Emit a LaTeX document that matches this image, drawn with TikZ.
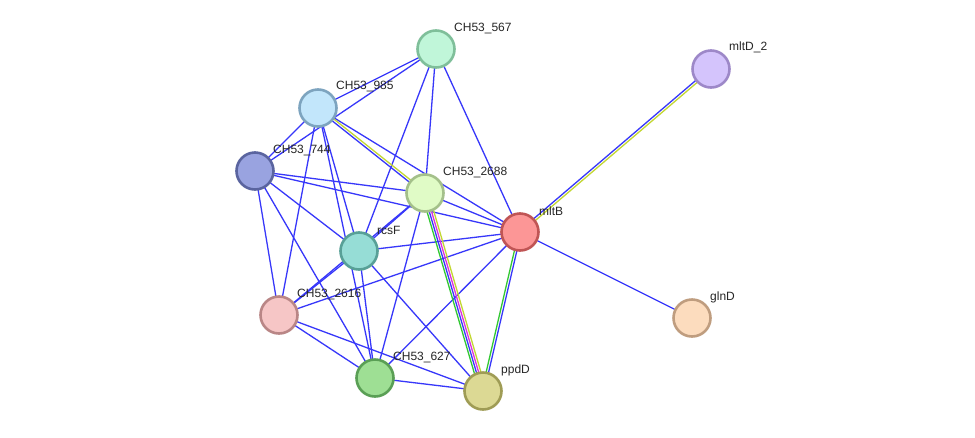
\documentclass[tikz,border=0pt]{standalone}
\usepackage{fontspec}
\setmainfont{Liberation Sans}
\usetikzlibrary{calc,backgrounds}
\definecolor{eblue}{RGB}{55,55,250}
\definecolor{egreen}{RGB}{50,200,50}
\definecolor{emag}{RGB}{220,50,220}
\definecolor{eyel}{RGB}{195,215,50}
\definecolor{d567}{RGB}{127,191,154}\definecolor{f567}{RGB}{192,246,217}
\definecolor{dmltD}{RGB}{157,136,200}\definecolor{fmltD}{RGB}{212,196,252}
\definecolor{d985}{RGB}{125,164,191}\definecolor{f985}{RGB}{194,230,251}
\definecolor{d744}{RGB}{90,100,159}\definecolor{f744}{RGB}{153,163,224}
\definecolor{d2688}{RGB}{164,192,138}\definecolor{f2688}{RGB}{224,251,198}
\definecolor{dmltB}{RGB}{192,85,85}\definecolor{fmltB}{RGB}{252,150,150}
\definecolor{drcsF}{RGB}{88,160,151}\definecolor{frcsF}{RGB}{150,221,214}
\definecolor{d2616}{RGB}{185,134,134}\definecolor{f2616}{RGB}{246,198,198}
\definecolor{dglnD}{RGB}{191,157,127}\definecolor{fglnD}{RGB}{252,220,190}
\definecolor{d627}{RGB}{90,159,85}\definecolor{f627}{RGB}{158,223,148}
\definecolor{dppdD}{RGB}{159,156,85}\definecolor{fppdD}{RGB}{220,217,148}
\newcommand\edgeoff[4]{\draw[#4] ($(#1.center)!#3pt!90:(#2.center)$) -- ($(#2.center)!#3pt!-90:(#1.center)$);}
\tikzset{
  prot/.style={circle, minimum size=37pt, inner sep=0pt, line width=2.6pt, draw=d#1, fill=f#1},
  lbl/.style={anchor=west, font=\fontsize{12pt}{14pt}\selectfont, inner sep=0pt, text=black!85},
  ed/.style={line width=1.3pt, draw=eblue},
}
\begin{document}
\begin{tikzpicture}[x=1pt,y=-1pt]
\useasboundingbox (0,0) rectangle (975,437);
% nodes
\node[prot=567] (n567) at (436,49) {};
\node[prot=mltD] (mltD) at (711,69) {};
\node[prot=985] (n985) at (318,108) {};
\node[prot=744] (n744) at (255,171) {};
\node[prot=2688] (n2688) at (425,193) {};
\node[prot=mltB] (mltB) at (520,232) {};
\node[prot=rcsF] (rcsF) at (359,251) {};
\node[prot=2616] (n2616) at (279,315) {};
\node[prot=glnD] (glnD) at (692,318) {};
\node[prot=627] (n627) at (375,378) {};
\node[prot=ppdD] (ppdD) at (483,391) {};
% labels
\node[lbl] (l567) at (454,28) {CH53\_567};
\node[lbl] (lmltD) at (729,47) {mltD\_2};
\node[lbl] (l985) at (336,86) {CH53\_985};
\node[lbl] (l744) at (273,150) {CH53\_744};
\node[lbl] (l2688) at (443,172) {CH53\_2688};
\node[lbl] (lmltB) at (539,211) {mltB};
\node[lbl] (lrcsF) at (377,230) {rcsF};
\node[lbl] (l2616) at (297,294) {CH53\_2616};
\node[lbl] (lglnD) at (710,297) {glnD};
\node[lbl] (l627) at (393,357) {CH53\_627};
\node[lbl] (lppdD) at (501,370) {ppdD};
% edges
\begin{scope}[on background layer]
\fill[white] (0,0) rectangle (975,437);
\foreach \a/\b in {n567/n985, n567/n744, n567/rcsF, n567/n2688, n567/mltB,
  n985/n744, n985/mltB, n985/n2616, n985/rcsF, n985/n627,
  n744/n2688, n744/mltB, n744/rcsF, n744/n2616, n744/n627,
  n2688/mltB, n2688/rcsF, n2688/n2616, n2688/n627,
  mltB/rcsF, mltB/n2616, mltB/n627, mltB/glnD,
  rcsF/n2616, rcsF/n627, rcsF/ppdD,
  n2616/n627, n2616/ppdD, n627/ppdD}
  {\draw[ed] (\a.center) -- (\b.center);}
\edgeoff{n985}{n2688}{1.2}{ed, draw=eyel}
\edgeoff{n985}{n2688}{-1.2}{ed}
\edgeoff{n2688}{ppdD}{-3.3}{ed, draw=egreen}
\edgeoff{n2688}{ppdD}{-1.1}{ed}
\edgeoff{n2688}{ppdD}{1.1}{ed, draw=emag}
\edgeoff{n2688}{ppdD}{3.3}{ed, draw=eyel}
\edgeoff{mltB}{ppdD}{-1.2}{ed, draw=egreen}
\edgeoff{mltB}{ppdD}{1.2}{ed}
\edgeoff{mltB}{mltD}{1.2}{ed}
\edgeoff{mltB}{mltD}{-1.2}{ed, draw=eyel}
\end{scope}
\end{tikzpicture}
\end{document}
